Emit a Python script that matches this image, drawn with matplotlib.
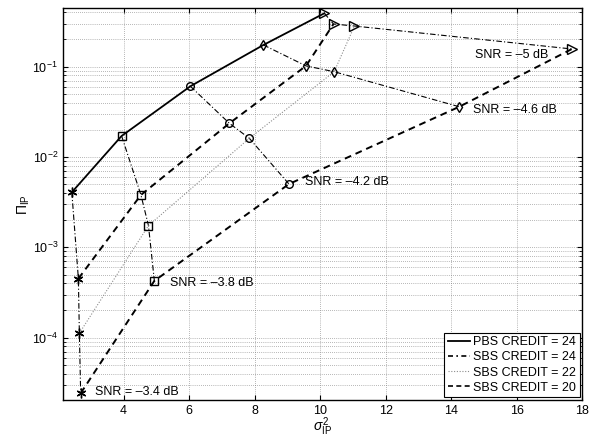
import numpy as np
import matplotlib.pyplot as plt
from matplotlib.lines import Line2D

plt.rcParams['font.family'] = ['Liberation Sans', 'DejaVu Sans']
plt.rcParams['mathtext.fontset'] = 'custom'
plt.rcParams['mathtext.rm'] = 'Liberation Sans'
plt.rcParams['mathtext.it'] = 'Liberation Sans:italic'

# SNR points in order -3.4, -3.8, -4.2, -4.6, -5 dB
snr_labels = ['SNR = \u20133.4 dB', 'SNR = \u20133.8 dB', 'SNR = \u20134.2 dB',
              'SNR = \u20134.6 dB', 'SNR = \u20135 dB']
snr_markers = [(6, 2, 0), 's', 'o', 'd', '>']
marker_sizes = [7, 5.5, 5.5, 5.5, 7]

# sigma^2_IP and Pi_IP for each credit curve
pbs24_x = [2.42, 3.94, 6.04, 8.27, 10.13]
pbs24_y = [4.07e-3, 1.71e-2, 6.07e-2, 0.174, 0.390]
sbs24_x = [2.62, 4.53, 7.23, 9.57, 10.41]
sbs24_y = [4.5e-4, 3.8e-3, 2.36e-2, 0.102, 0.297]
sbs22_x = [2.65, 4.76, 7.84, 10.43, 11.05]
sbs22_y = [1.12e-4, 1.74e-3, 1.61e-2, 0.088, 0.282]
sbs20_x = [2.69, 4.94, 9.05, 14.25, 17.69]
sbs20_y = [2.42e-5, 4.25e-4, 5.02e-3, 0.036, 0.157]

legend_labels = ['PBS CREDIT = 24', 'SBS CREDIT = 24', 'SBS CREDIT = 22', 'SBS CREDIT = 20']

# label anchor positions (data coords)
label_x = [3.13, 5.42, 9.54, 14.66, 14.73]
label_y = [2.52e-5, 4.0e-4, 5.33e-3, 3.32e-2, 0.135]

fig = plt.figure(figsize=(5.97, 4.37), dpi=100)
ax = fig.add_axes([0.1055, 0.0847, 0.8695, 0.8963])

curves_x = [pbs24_x, sbs24_x, sbs22_x, sbs20_x]
curves_y = [pbs24_y, sbs24_y, sbs22_y, sbs20_y]
styles = [dict(ls='-', lw=1.3, color='k'),
          dict(ls=(0, (3.5, 2.5)), lw=1.4, color='k'),
          dict(ls=(0, (1, 1.5)), lw=0.8, color='0.55'),
          dict(ls=(0, (3.5, 2.5)), lw=1.4, color='k')]

for cx, cy, st in zip(curves_x, curves_y, styles):
    ax.plot(cx, cy, zorder=3, **st)

# SNR lines connecting points across credits
for i in range(5):
    xs = [c[i] for c in curves_x]
    ys = [c[i] for c in curves_y]
    ax.plot(xs, ys, color='k', lw=0.8, ls=(0, (5, 2, 1, 2)), zorder=2)
    ax.plot(xs, ys, ls='none', marker=snr_markers[i], ms=marker_sizes[i],
            mfc='none', mec='k', mew=1.0, zorder=4)
    ax.text(label_x[i], label_y[i], snr_labels[i], fontsize=9, va='center', ha='left')

ax.set_yscale('log')
ax.set_xlim(2.15, 18)
ax.set_ylim(2.04e-5, 0.443)
ax.set_xticks([4, 6, 8, 10, 12, 14, 16, 18])
ax.grid(True, which='major', ls=(0, (1, 2)), color='0.45', lw=0.5)
ax.grid(True, which='minor', axis='y', ls=(0, (1, 2)), color='0.45', lw=0.5)
ax.tick_params(which='both', direction='in', top=True, right=True, labelsize=9)
for s in ax.spines.values():
    s.set_linewidth(1.0)

ax.set_xlabel(r'$\sigma^2_{\mathrm{IP}}$', fontsize=10, labelpad=-1)
ax.set_ylabel(r'$\Pi_{\mathrm{IP}}$', fontsize=10, labelpad=0)

handles = [Line2D([], [], color='k', lw=1.3, ls='-'),
           Line2D([], [], color='k', lw=1.2, ls=(0, (3, 2, 1, 2))),
           Line2D([], [], color='0.55', lw=0.8, ls=(0, (1, 1.5))),
           Line2D([], [], color='k', lw=1.2, ls=(0, (3, 2)))]
leg = ax.legend(handles, legend_labels, loc='lower right', fontsize=9,
                fancybox=False, framealpha=1, edgecolor='k', borderaxespad=0.2,
                handlelength=1.8, handletextpad=0.2, labelspacing=0.25,
                borderpad=0.3)
leg.get_frame().set_linewidth(0.8)

fig.savefig('out.png', dpi=100)
